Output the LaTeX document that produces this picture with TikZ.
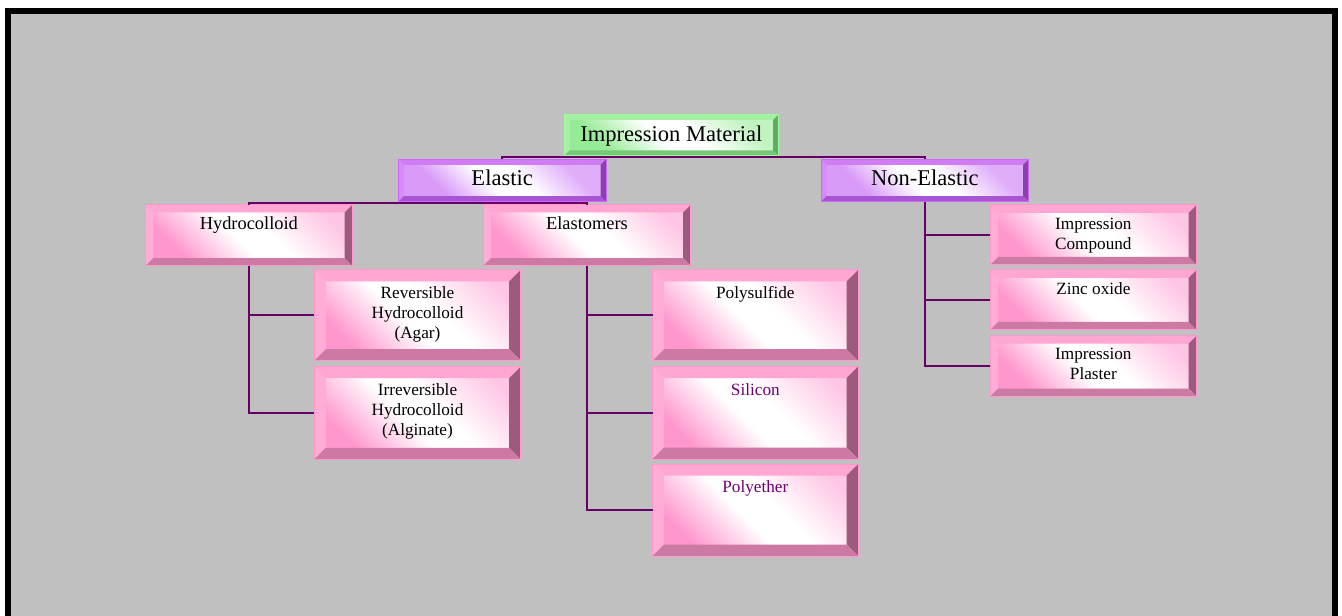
\documentclass[tikz,border=0pt]{standalone}
\usepackage{fontspec}
\setmainfont{Liberation Serif}
\usetikzlibrary{calc,fit}

\definecolor{connline}{RGB}{102,0,102}
\definecolor{bggray}{RGB}{192,192,192}
\definecolor{violettxt}{RGB}{112,0,112}
% pink boxes
\definecolor{pinkF}{RGB}{255,150,205}
\definecolor{pinkT}{RGB}{255,166,210}
\definecolor{pinkL}{RGB}{255,172,214}
\definecolor{pinkR}{RGB}{158,90,126}
\definecolor{pinkB}{RGB}{204,121,163}
\definecolor{pinkE}{RGB}{255,153,204}
% purple boxes
\definecolor{purpF}{RGB}{204,120,245}
\definecolor{purpT}{RGB}{208,125,245}
\definecolor{purpL}{RGB}{214,140,247}
\definecolor{purpR}{RGB}{140,64,176}
\definecolor{purpB}{RGB}{168,85,212}
\definecolor{purpE}{RGB}{204,102,255}
% green box
\definecolor{grnF}{RGB}{150,235,150}
\definecolor{grnT}{RGB}{163,240,163}
\definecolor{grnL}{RGB}{170,238,170}
\definecolor{grnR}{RGB}{100,170,100}
\definecolor{grnB}{RGB}{120,200,120}
\definecolor{grnE}{RGB}{153,255,153}

\pgfdeclarehorizontalshading{pinkdiag}{100bp}{color(0bp)=(pinkF); color(27bp)=(pinkF); color(46bp)=(white); color(56bp)=(white); color(76bp)=(pinkF!55); color(100bp)=(pinkF!55)}
\pgfdeclarehorizontalshading{purpdiag}{100bp}{color(0bp)=(purpF!75); color(30bp)=(purpF!75); color(46bp)=(white); color(56bp)=(white); color(72bp)=(purpF!60); color(100bp)=(purpF!60)}
\pgfdeclarehorizontalshading{grndiag}{100bp}{color(0bp)=(grnF); color(28bp)=(grnF); color(46bp)=(white); color(56bp)=(white); color(74bp)=(grnF!60); color(100bp)=(grnF!60)}

% bevel edges round a box node: #1 node, #2 colour set, #3 bevel width
\newcommand\bevelbox[3]{%
  \fill[#2T] (#1.north west) -- (#1.north east) -- ($(#1.north east)+(-#3,#3)$) -- ($(#1.north west)+(#3,#3)$) -- cycle;
  \fill[#2L] (#1.north west) -- ($(#1.north west)+(#3,#3)$) -- ($(#1.south west)+(#3,-#3)$) -- (#1.south west) -- cycle;
  \fill[#2R] (#1.north east) -- (#1.south east) -- ($(#1.south east)+(-#3,-#3)$) -- ($(#1.north east)+(-#3,#3)$) -- cycle;
  \fill[#2B] (#1.south west) -- ($(#1.south west)+(#3,-#3)$) -- ($(#1.south east)+(-#3,-#3)$) -- (#1.south east) -- cycle;
  \draw[#2E] (#1.north west) rectangle (#1.south east);
}

\tikzset{every picture/.style={line width=0.75pt},
  boxbase/.style={inner sep=0pt, outer sep=0pt},
  pinkbox/.style={boxbase, shade, shading=pinkdiag, shading angle=45},
  purpbox/.style={boxbase, shade, shading=purpdiag, shading angle=45},
  grnbox/.style={boxbase, shade, shading=grndiag, shading angle=45},
  bigtxt/.style={inner sep=0pt, anchor=base, font=\fontsize{16.9}{20}\selectfont},
  midtxt/.style={inner sep=0pt, anchor=north, font=\fontsize{13.8}{16}\selectfont},
  smalltxt/.style={inner sep=0pt, anchor=north, align=center, font=\fontsize{12.9}{15}\selectfont},
  conn/.style={draw=connline, line width=1.5pt}
}

\begin{document}
\begin{tikzpicture}[x=0.75pt,y=0.75pt,yscale=-1,xscale=1]
\useasboundingbox (0,0) rectangle (1342,616);

%Background and frame
\fill[white] (0,0) rectangle (1342,616);
\fill[bggray] (5,8) rectangle (1338,616);
\draw[black, line width=4.5pt] (7.7,620) -- (7.7,11) -- (1335,11) -- (1335,620);

%Boxes
\node[grnbox, fit={(564,114.3) (778.7,156)}] (impmat) {};
\node[purpbox, fit={(398.3,159.3) (606,201.7)}] (elastic) {};
\node[purpbox, fit={(821,159.3) (1028.7,201.7)}] (nonel) {};
\node[pinkbox, fit={(145.7,205) (352,265.7)}] (hydro) {};
\node[pinkbox, fit={(483.3,205) (690.7,265.7)}] (elasto) {};
\node[pinkbox, fit={(314.3,270) (520.7,360.7)}] (revhc) {};
\node[pinkbox, fit={(314.3,366.7) (520.7,459.3)}] (irrhc) {};
\node[pinkbox, fit={(652.7,270) (858,360.7)}] (polysul) {};
\node[pinkbox, fit={(652.7,366.7) (858,459)}] (silicon) {};
\node[pinkbox, fit={(652.7,464) (858,556)}] (polyeth) {};
\node[pinkbox, fit={(990,205) (1196.7,265)}] (impcomp) {};
\node[pinkbox, fit={(990,270) (1196.7,330)}] (zincox) {};
\node[pinkbox, fit={(990,335.7) (1196.7,396.7)}] (impplas) {};

%Bevels
\bevelbox{impmat}{grn}{5.5}
\bevelbox{elastic}{purp}{5.5}
\bevelbox{nonel}{purp}{5.5}
\bevelbox{hydro}{pink}{7.5}
\bevelbox{elasto}{pink}{7.5}
\bevelbox{revhc}{pink}{11.5}
\bevelbox{irrhc}{pink}{11.5}
\bevelbox{polysul}{pink}{11.5}
\bevelbox{silicon}{pink}{11.5}
\bevelbox{polyeth}{pink}{11.5}
\bevelbox{impcomp}{pink}{8}
\bevelbox{zincox}{pink}{8}
\bevelbox{impplas}{pink}{8}

%Connectors
\coordinate (bus1) at (impmat.south |- 0,157);
\draw[conn] (elastic.north) |- (bus1) -| (nonel.north);
\draw[conn] (impmat.south) -- (bus1);
\coordinate (bus2) at (elastic.south |- 0,202.8);
\draw[conn] (hydro.north) |- (bus2) -| (elasto.north);
\draw[conn] (elastic.south) -- (bus2);
\draw[conn] (hydro.south) |- (revhc.west);
\draw[conn] (hydro.south) |- (irrhc.west);
\draw[conn] (elasto.south) |- (polysul.west);
\draw[conn] (elasto.south) |- (silicon.west);
\draw[conn] (elasto.south) |- (polyeth.west);
\draw[conn] (nonel.south) |- (impcomp.west);
\draw[conn] (nonel.south) |- (zincox.west);
\draw[conn] (nonel.south) |- (impplas.west);

%Text Nodes
\path (impmat.center) ++(0,6.5) node[bigtxt] (impmat-t) {Impression Material};
\path (elastic.center) ++(0,5.5) node[bigtxt] (elastic-t) {Elastic};
\path (nonel.center) ++(0,5.5) node[bigtxt] (nonel-t) {Non-Elastic};
\path (hydro.north) ++(0,11.4) node[midtxt] (hydro-t) {Hydrocolloid};
\path (elasto.north) ++(0,11.4) node[midtxt] (elasto-t) {Elastomers};
\path (revhc.north) ++(0,16.3) node[smalltxt] (revhc-t) {Reversible\\Hydrocolloid\\(Agar)};
\path (irrhc.north) ++(0,16.3) node[smalltxt] (irrhc-t) {Irreversible\\Hydrocolloid\\(Alginate)};
\path (polysul.north) ++(0,16.3) node[smalltxt] (polysul-t) {Polysulfide};
\path (silicon.north) ++(0,16.3) node[smalltxt, text=violettxt] (silicon-t) {Silicon};
\path (polyeth.north) ++(0,16.3) node[smalltxt, text=violettxt] (polyeth-t) {Polyether};
\path (impcomp.north) ++(0,12.3) node[smalltxt] (impcomp-t) {Impression\\Compound};
\path (zincox.north) ++(0,12.3) node[smalltxt] (zincox-t) {Zinc oxide};
\path (impplas.north) ++(0,12.3) node[smalltxt] (impplas-t) {Impression\\Plaster};

\end{tikzpicture}
\end{document}
